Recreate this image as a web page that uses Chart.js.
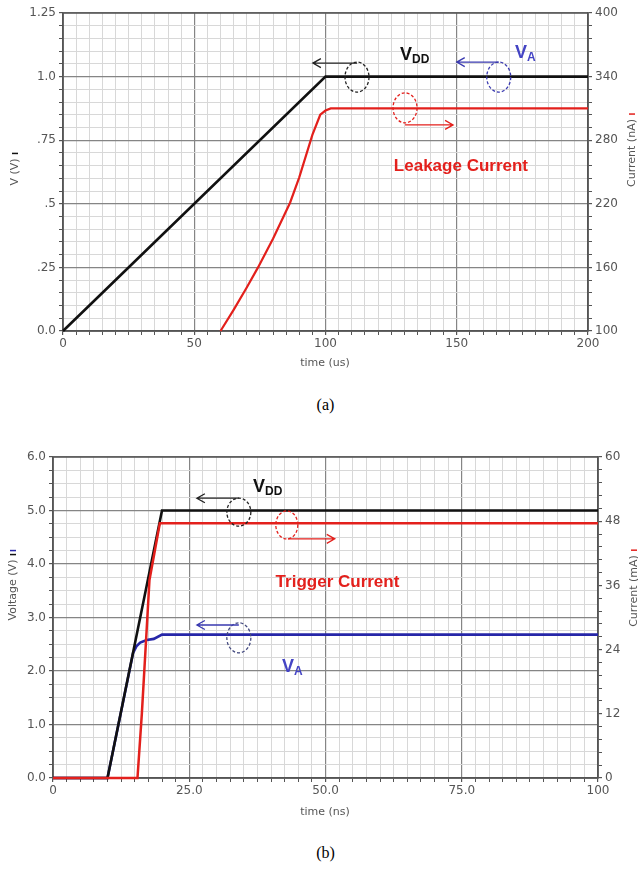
<!DOCTYPE html>
<html>
<head>
<meta charset="utf-8">
<title>Supply ramp transients</title>
<script src="https://cdn.jsdelivr.net/npm/chart.js@4.4.1/dist/chart.umd.min.js"></script>
<style>
  body { margin: 0; background: #fff; width: 638px; height: 869px; position: relative; overflow: hidden; }
  canvas { position: absolute; left: 0; }
  #chartA { top: 0; }
  #chartB { top: 440px; }
  .caption { position: absolute; left: 0; width: 651px; text-align: center; font: 16px 'Liberation Serif', 'Times New Roman', serif; color: #000; line-height: 20px; }
</style>
</head>
<body>
<canvas id="chartA" width="638" height="380"></canvas>
<div class="caption" style="top:395px">(a)</div>
<canvas id="chartB" width="638" height="390"></canvas>
<div class="caption" style="top:843px">(b)</div>

<script>
// ---- (a) slow supply ramp (us): VDD and leakage current ----
const vddTimeA = [0, 100, 200];
const vddA = [0, 1.0, 1.0];
const leakTimeA = [60, 65, 70, 74.3, 80, 86.5, 90, 95, 98, 100, 102, 200];
const leakA = [100, 120, 141, 160, 187, 221, 245, 285, 304, 308, 310, 310];

const timeTicksA = [0, 50, 100, 150, 200];
const timeLabelsA = ['0', '50', '100', '150', '200'];
const voltTicksA = [0, 0.25, 0.5, 0.75, 1.0, 1.25];
const voltLabelsA = ['0.0', '.25', '.5', '.75', '1.0', '1.25'];
const currTicksA = [100, 160, 220, 280, 340, 400];
const currLabelsA = ['100', '160', '220', '280', '340', '400'];

// ---- (b) fast supply ramp (ns): VDD, node A voltage and trigger current ----
const vddTimeB = [0, 10, 20, 100];
const vddB = [0, 0, 5.0, 5.0];
const vaTimeB = [0, 10, 14.7, 15.3, 16, 17.2, 18.5, 20, 100];
const vaB = [0, 0, 2.34, 2.46, 2.53, 2.58, 2.6, 2.68, 2.68];
const trigTimeB = [0, 15.5, 16.3, 17.2, 17.7, 18.6, 19.6, 100];
const trigB = [0, 0, 12, 28, 37, 42, 47.6, 47.6];

const timeTicksB = [0, 25, 50, 75, 100];
const timeLabelsB = ['0', '25.0', '50.0', '75.0', '100'];
const voltTicksB = [0, 1, 2, 3, 4, 5, 6];
const voltLabelsB = ['0.0', '1.0', '2.0', '3.0', '4.0', '5.0', '6.0'];
const currTicksB = [0, 12, 24, 36, 48, 60];
const currLabelsB = ['0', '12', '24', '36', '48', '60'];

const RED = '#e3201c';
const BLUE = '#2626a8';
const TEXT_BLUE = '#4444c4';
const AXIS = '#555';

function points(xs, ys) {
    return xs.map((x, i) => ({ x: x, y: ys[i] }));
}

function isMajor(majors, v) {
    return majors.some(m => Math.abs(m - v) < 1e-6);
}

function labeler(majors, labels) {
    return v => {
        const i = majors.findIndex(m => Math.abs(m - v) < 1e-6);
        return i < 0 ? '' : labels[i];
    };
}

// Linear axis with light minor grid and darker major grid
function axis(opts) {
    return {
        type: 'linear',
        position: opts.position,
        min: opts.min,
        max: opts.max,
        border: { display: true, color: AXIS, width: 1.5 },
        grid: {
            drawOnChartArea: opts.grid !== false,
            color: ctx => isMajor(opts.majors, ctx.tick.value) ? '#858585' : '#d8d8d8',
            lineWidth: ctx => isMajor(opts.majors, ctx.tick.value) ? 1.2 : 1,
            tickLength: 4,
            tickColor: AXIS
        },
        ticks: {
            stepSize: opts.step,
            autoSkip: false,
            maxRotation: 0,
            padding: opts.padding,
            color: '#555',
            font: { family: 'DejaVu Sans', size: 12 },
            callback: labeler(opts.majors, opts.labels)
        },
        afterFit: scale => {
            if (opts.width !== undefined) scale.width = opts.width;
            if (opts.height !== undefined) scale.height = opts.height;
        }
    };
}

// Frame, arrows, dashed loops, labels and axis titles
const notes = {
    id: 'notes',
    beforeDatasetsDraw(chart) {
        const a = chart.chartArea;
        const ctx = chart.ctx;
        ctx.save();
        ctx.strokeStyle = AXIS;
        ctx.lineWidth = 1.5;
        ctx.strokeRect(a.left, a.top, a.right - a.left, a.bottom - a.top);
        ctx.restore();
    },
    afterDatasetsDraw(chart, args, opts) {
        const ctx = chart.ctx;
        const px = v => chart.scales.x.getPixelForValue(v);
        const py = v => chart.scales.y.getPixelForValue(v);
        ctx.save();

        (opts.loops || []).forEach(e => {
            ctx.beginPath();
            ctx.setLineDash([3, 2]);
            ctx.strokeStyle = e.color;
            ctx.lineWidth = 1.3;
            ctx.ellipse(px(e.x), py(e.y), e.rx, e.ry, 0, 0, Math.PI * 2);
            ctx.stroke();
        });
        ctx.setLineDash([]);

        (opts.arrows || []).forEach(ar => {
            const x0 = px(ar.from), x1 = px(ar.to), y = py(ar.y);
            const dir = x1 < x0 ? 1 : -1;
            ctx.strokeStyle = ar.color;
            ctx.lineWidth = 1.3;
            ctx.beginPath();
            ctx.moveTo(x0, y);
            ctx.lineTo(x1, y);
            ctx.moveTo(x1 + dir * 8, y - 4.5);
            ctx.lineTo(x1, y);
            ctx.lineTo(x1 + dir * 8, y + 4.5);
            ctx.stroke();
        });

        (opts.labels || []).forEach(l => {
            ctx.fillStyle = l.color;
            ctx.textBaseline = 'alphabetic';
            ctx.font = 'bold ' + l.size + "px 'Liberation Sans', Arial, sans-serif";
            ctx.textAlign = l.align || 'left';
            const x = px(l.x), y = py(l.y);
            ctx.fillText(l.text, x, y);
            if (l.sub) {
                const w = ctx.measureText(l.text).width;
                ctx.font = 'bold ' + Math.round(l.size * 0.68) + "px 'Liberation Sans', Arial, sans-serif";
                ctx.textAlign = 'left';
                ctx.fillText(l.sub, x + w, y + 3);
            }
        });
        ctx.restore();
    },
    afterDraw(chart, args, opts) {
        const ctx = chart.ctx;
        ctx.save();
        ctx.font = "11px 'DejaVu Sans', sans-serif";
        ctx.fillStyle = '#555';
        ctx.textBaseline = 'middle';
        ctx.textAlign = 'center';
        (opts.titles || []).forEach(t => {
            ctx.save();
            ctx.translate(t.cx, t.cy);
            if (t.rotate) ctx.rotate(-Math.PI / 2);
            ctx.fillText(t.text, 0, 0);
            const w = ctx.measureText(t.text).width;
            (t.marks || []).forEach((c, i) => {
                ctx.strokeStyle = c;
                ctx.lineWidth = 1.5;
                ctx.beginPath();
                ctx.moveTo(w / 2 + 5 + i * 4, -3);
                ctx.lineTo(w / 2 + 5 + i * 4, 3);
                ctx.stroke();
            });
            ctx.restore();
        });
        ctx.restore();
    }
};

function line(data, color, width, axisId, order) {
    return {
        data: data,
        borderColor: color,
        borderWidth: width,
        pointRadius: 0,
        tension: 0,
        yAxisID: axisId,
        order: order,
        clip: 4
    };
}

// ---- chart (a) ----
new Chart(document.getElementById('chartA'), {
    type: 'line',
    data: {
        datasets: [
            line(points(leakTimeA, leakA), RED, 2.2, 'y2', 1),
            line(points(vddTimeA, vddA), '#111', 2.6, 'y', 2)
        ]
    },
    options: {
        responsive: false,
        animation: false,
        layout: { padding: { top: 13, left: 0, right: 0, bottom: 0 } },
        plugins: {
            legend: { display: false },
            tooltip: { enabled: false },
            notes: {
                loops: [
                    { x: 112, y: 0.998, rx: 12, ry: 15, color: '#222' },
                    { x: 166, y: 0.998, rx: 12, ry: 15, color: '#3a3ab0' },
                    { x: 130.3, y: 0.877, rx: 12, ry: 15, color: RED }
                ],
                arrows: [
                    { from: 112, to: 95.2, y: 1.053, color: '#222' },
                    { from: 166, to: 150, y: 1.057, color: '#3a3ab0' },
                    { from: 130.3, to: 148.6, y: 0.81, color: RED }
                ],
                labels: [
                    { text: 'V', sub: 'DD', x: 128.4, y: 1.065, size: 18, color: '#111' },
                    { text: 'V', sub: 'A', x: 172.2, y: 1.073, size: 18, color: TEXT_BLUE },
                    { text: 'Leakage Current', x: 151.6, y: 0.629, size: 17, color: RED, align: 'center' }
                ],
                titles: [
                    { text: 'V (V)', cx: 15, cy: 172, rotate: true, marks: ['#111'] },
                    { text: 'Current (nA)', cx: 632, cy: 153, rotate: true, marks: [RED] },
                    { text: 'time (us)', cx: 325, cy: 363 }
                ]
            }
        },
        scales: {
            x: axis({ position: 'bottom', min: 0, max: 200, step: 5, majors: timeTicksA, labels: timeLabelsA, padding: 2, height: 49 }),
            y: axis({ position: 'left', min: 0, max: 1.25, step: 0.05, majors: voltTicksA, labels: voltLabelsA, padding: 3, width: 63 }),
            y2: axis({ position: 'right', min: 100, max: 400, step: 12, majors: currTicksA, labels: currLabelsA, padding: 3, width: 50, grid: false })
        }
    },
    plugins: [notes]
});

// ---- chart (b) ----
new Chart(document.getElementById('chartB'), {
    type: 'line',
    data: {
        datasets: [
            line(points(trigTimeB, trigB), RED, 2.5, 'y2', 1),
            line(points(vddTimeB, vddB), '#111', 2.6, 'y', 2),
            line(points(vaTimeB, vaB), BLUE, 2.6, 'y', 3)
        ]
    },
    options: {
        responsive: false,
        animation: false,
        layout: { padding: { top: 17, left: 0, right: 0, bottom: 0 } },
        plugins: {
            legend: { display: false },
            tooltip: { enabled: false },
            notes: {
                loops: [
                    { x: 34.1, y: 4.97, rx: 12, ry: 14, color: '#222' },
                    { x: 42.9, y: 4.73, rx: 11, ry: 14, color: RED },
                    { x: 34.1, y: 2.62, rx: 12, ry: 15, color: '#444a80' }
                ],
                arrows: [
                    { from: 34.1, to: 26.4, y: 5.23, color: '#222' },
                    { from: 43.1, to: 51.7, y: 4.47, color: RED },
                    { from: 34.1, to: 26.4, y: 2.86, color: '#3a3ab0' }
                ],
                labels: [
                    { text: 'V', sub: 'DD', x: 36.7, y: 5.35, size: 18, color: '#111' },
                    { text: 'Trigger Current', x: 52.2, y: 3.57, size: 17, color: RED, align: 'center' },
                    { text: 'V', sub: 'A', x: 42.0, y: 1.98, size: 18, color: TEXT_BLUE }
                ],
                titles: [
                    { text: 'Voltage (V)', cx: 13, cy: 150, rotate: true, marks: ['#111', BLUE] },
                    { text: 'Current (mA)', cx: 634, cy: 151, rotate: true, marks: [RED] },
                    { text: 'time (ns)', cx: 325, cy: 372 }
                ]
            }
        },
        scales: {
            x: axis({ position: 'bottom', min: 0, max: 100, step: 2.5, majors: timeTicksB, labels: timeLabelsB, padding: 2, height: 52 }),
            y: axis({ position: 'left', min: 0, max: 6, step: 0.25, majors: voltTicksB, labels: voltLabelsB, padding: 3, width: 53 }),
            y2: axis({ position: 'right', min: 0, max: 60, step: 2.4, majors: currTicksB, labels: currLabelsB, padding: 3, width: 40, grid: false })
        }
    },
    plugins: [notes]
});
</script>
</body>
</html>
